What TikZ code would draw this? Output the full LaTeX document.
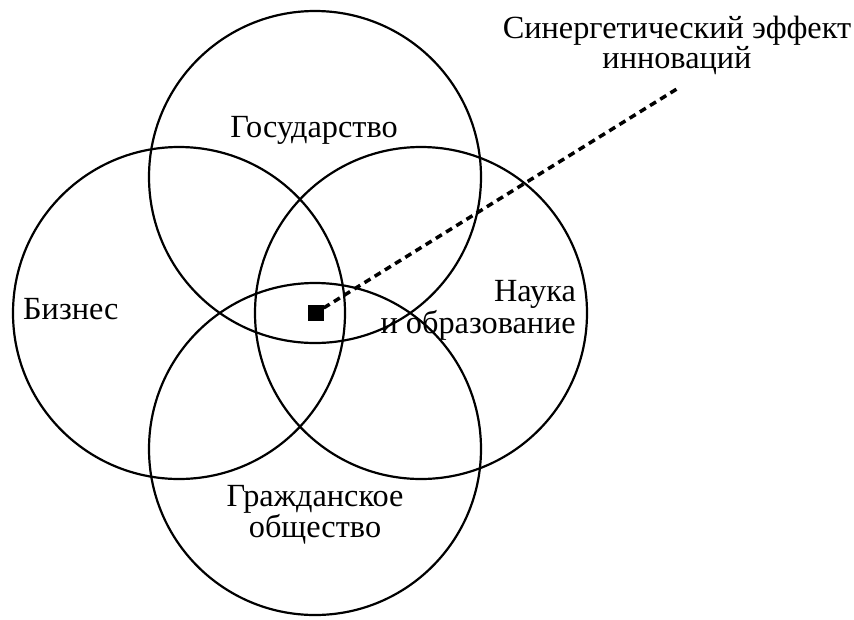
\documentclass[tikz,border=0pt]{standalone}
\usepackage{fontspec}
\setmainfont{Liberation Serif}
\begin{document}
\begin{tikzpicture}[x=1pt,y=-1pt,
  sphere/.style={draw=black, line width=2.2pt, circle, minimum size=332pt, inner sep=0pt},
  lbl/.style={font=\fontsize{32.3}{28}\selectfont, inner sep=0pt, anchor=base},
  core/.style={fill=black, minimum size=16pt, inner sep=0pt},
  link/.style={line width=3.5pt, dash pattern=on 7pt off 5pt}]
\useasboundingbox (0,0) rectangle (854,619);
\node[sphere] (gov) at (315,177) {};
\node[sphere] (biz) at (179,313) {};
\node[sphere] (sci) at (421,313) {};
\node[sphere] (civ) at (315,449) {};
\node[lbl] (tgov) at (314,137) {Государство};
\node[lbl, anchor=base west] (tbiz) at (23,319) {Бизнес};
\node[lbl, anchor=base east, align=right] (tsci) at (576,333) {Наука\\и образование};
\node[lbl, align=center] (tciv) at (315,537) {Гражданское\\общество};
\node[lbl, font=\fontsize{32.3}{24.5}\selectfont, align=center] (tsyn) at (677,68) {Синергетический эффект\\инноваций};
\node[core] (sq) at (315.5,313) {};
\coordinate (tip) at (680,87);
\draw[link] (sq) -- (tip);
\end{tikzpicture}
\end{document}
